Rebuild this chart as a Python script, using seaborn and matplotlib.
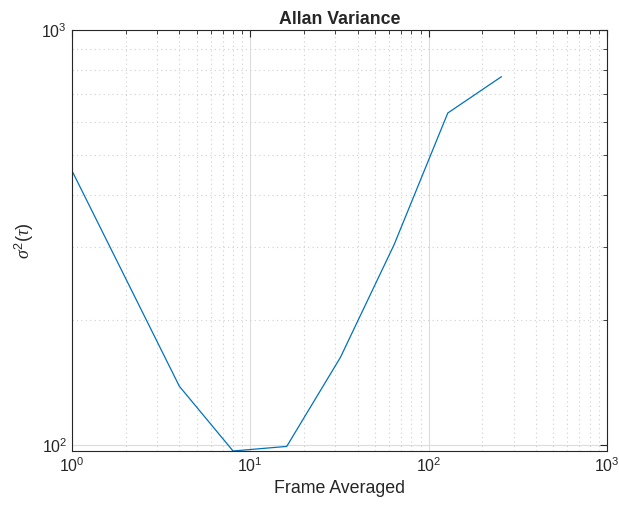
import numpy as np
import pandas as pd
import matplotlib
matplotlib.use("Agg")
import matplotlib.pyplot as plt
import seaborn as sns

# Values
frames = [1, 2, 4, 8, 16, 32, 64, 128, 256]
allan_var = [458, 252, 138.6, 96.8, 99.3, 162.7, 304, 631, 772]

df = pd.DataFrame({"Frame Averaged": frames, "sigma2": allan_var})

sns.set_style("white")
plt.rcParams["font.family"] = ["Liberation Sans", "DejaVu Sans"]
plt.rcParams["mathtext.fontset"] = "custom"
plt.rcParams["mathtext.rm"] = "Liberation Sans"
plt.rcParams["mathtext.it"] = "Liberation Serif:italic"

fig = plt.figure(figsize=(6.19, 5.08), dpi=100)
ax = fig.add_axes([72 / 619, 57 / 508, 535 / 619, 421 / 508])

sns.lineplot(data=df, x="Frame Averaged", y="sigma2", color="#0072BD",
             linewidth=0.9, ax=ax)

ax.set_xscale("log")
ax.set_yscale("log")
ax.set_xlim(1, 1000)
ax.set_ylim(96.8, 1000)

ax.grid(True, which="major", color="#dcdcdc", linestyle="-", linewidth=0.8)
ax.grid(True, which="minor", color="#d0d0d0", linestyle=(0, (1, 3)), linewidth=0.8)
ax.set_axisbelow(True)

ax.tick_params(which="both", direction="in", top=True, right=True,
               colors="#262626", labelsize=11.5)
ax.tick_params(which="major", length=5, width=0.8)
ax.tick_params(which="minor", length=3, width=0.6)
for s in ax.spines.values():
    s.set_color("#262626")
    s.set_linewidth(0.8)

ax.set_title("Allan Variance", fontweight="bold", fontsize=12.8, pad=4)
ax.set_xlabel("Frame Averaged", fontsize=12.8, color="#262626")
ax.set_ylabel(r"$\sigma^2(\tau)$", fontsize=13, color="#262626")

fig.savefig("out.png", dpi=100)
